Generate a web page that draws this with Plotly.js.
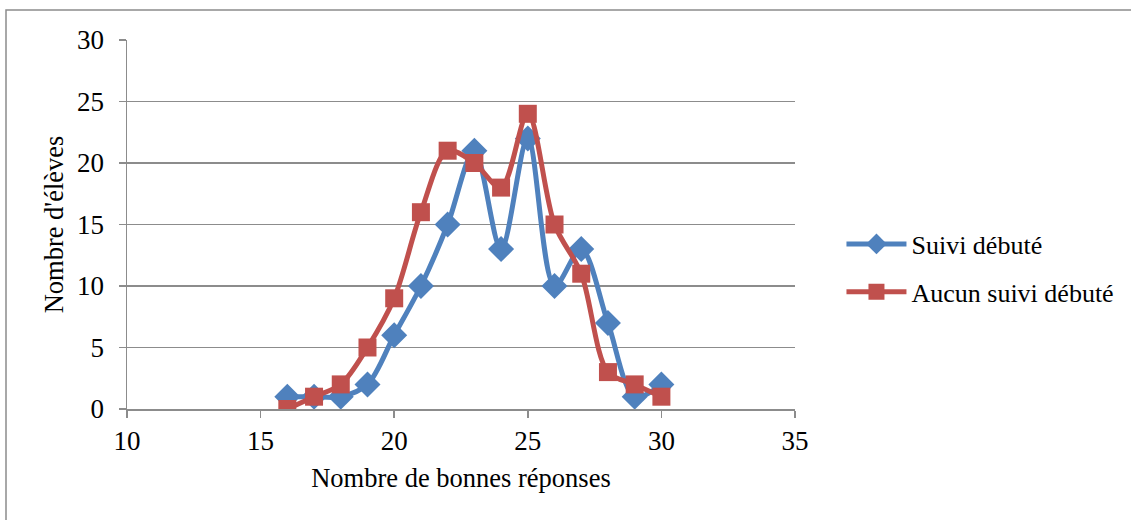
<!DOCTYPE html>
<html>
<head>
<meta charset="utf-8">
<script src="https://cdn.plot.ly/plotly-3.0.1.min.js"></script>
<style>html,body{margin:0;padding:0;background:#fff;}#chart{width:1131px;height:520px;}</style>
</head>
<body>
<div id="chart"></div>
<script>
var scores = [16,17,18,19,20,21,22,23,24,25,26,27,28,29,30];
var suiviDebute = [1,1,1,2,6,10,15,21,13,22,10,13,7,1,2];
var aucunSuivi = [0,1,2,5,9,16,21,20,18,24,15,11,3,2,1];
var seriesNames = ["Suivi débuté","Aucun suivi débuté"];
var xTitle = "Nombre de bonnes réponses";
var yTitle = "Nombre d'élèves";

var font = "Liberation Serif";
var traces = [
  {x: scores, y: suiviDebute, name: seriesNames[0], legendgroup: "a", type: "scatter", mode: "lines+markers",
   line: {color: "#4F81BD", width: 5, shape: "spline", smoothing: 0.9},
   marker: {symbol: "diamond", size: 20, color: "#4F81BD"}},
  {x: scores, y: aucunSuivi, name: seriesNames[1], legendgroup: "b", type: "scatter", mode: "lines+markers",
   line: {color: "#C0504D", width: 5, shape: "spline", smoothing: 0.9},
   marker: {symbol: "square", size: 18, color: "#C0504D"}}
];
var W = 668, H = 369;
var layout = {
  width: 1131, height: 520,
  margin: {l: 127, r: 336, t: 40, b: 111, pad: 0, autoexpand: false},
  paper_bgcolor: "#fff", plot_bgcolor: "#fff",
  font: {family: font, size: 26, color: "#000"},
  showlegend: true,
  legend: {xref: "container", yref: "container", x: 0.744, y: 0.4846, xanchor: "left", yanchor: "middle",
           font: {family: font, size: 26, color: "#000"},
           tracegroupgap: 11, itemwidth: 60, bgcolor: "rgba(0,0,0,0)"},
  xaxis: {range: [10, 35], dtick: 5, tick0: 10, showgrid: false, zeroline: false,
          showline: true, linecolor: "#8c8c8c", linewidth: 1.5,
          ticks: "outside", ticklen: 7, tickcolor: "#8c8c8c", tickwidth: 1.5,
          ticklabelstandoff: 0,
          tickfont: {family: font, size: 27, color: "#000"},
          title: {text: xTitle, font: {family: font, size: 26.5, color: "#000"}, standoff: 13}},
  yaxis: {range: [0, 30], dtick: 5, tick0: 0, showgrid: true, gridcolor: "#8c8c8c", gridwidth: 1.5,
          zeroline: false, showline: true, linecolor: "#8c8c8c", linewidth: 1.5,
          ticks: "outside", ticklen: 7, tickcolor: "#8c8c8c", tickwidth: 1.5,
          ticklabelstandoff: 9,
          tickfont: {family: font, size: 27, color: "#000"},
          title: {text: yTitle, font: {family: font, size: 26.5, color: "#000"}, standoff: 6}},
  shapes: [{type: "rect", xref: "paper", yref: "paper", layer: "below",
            x0: (6 - 127) / W, x1: (1140 - 127) / W, y0: (409 - 530) / H, y1: (409 - 10) / H,
            line: {color: "#8c8c8c", width: 1.5}, fillcolor: "rgba(0,0,0,0)"}]
};
Plotly.newPlot("chart", traces, layout, {displayModeBar: false, staticPlot: true});
</script>
</body>
</html>
